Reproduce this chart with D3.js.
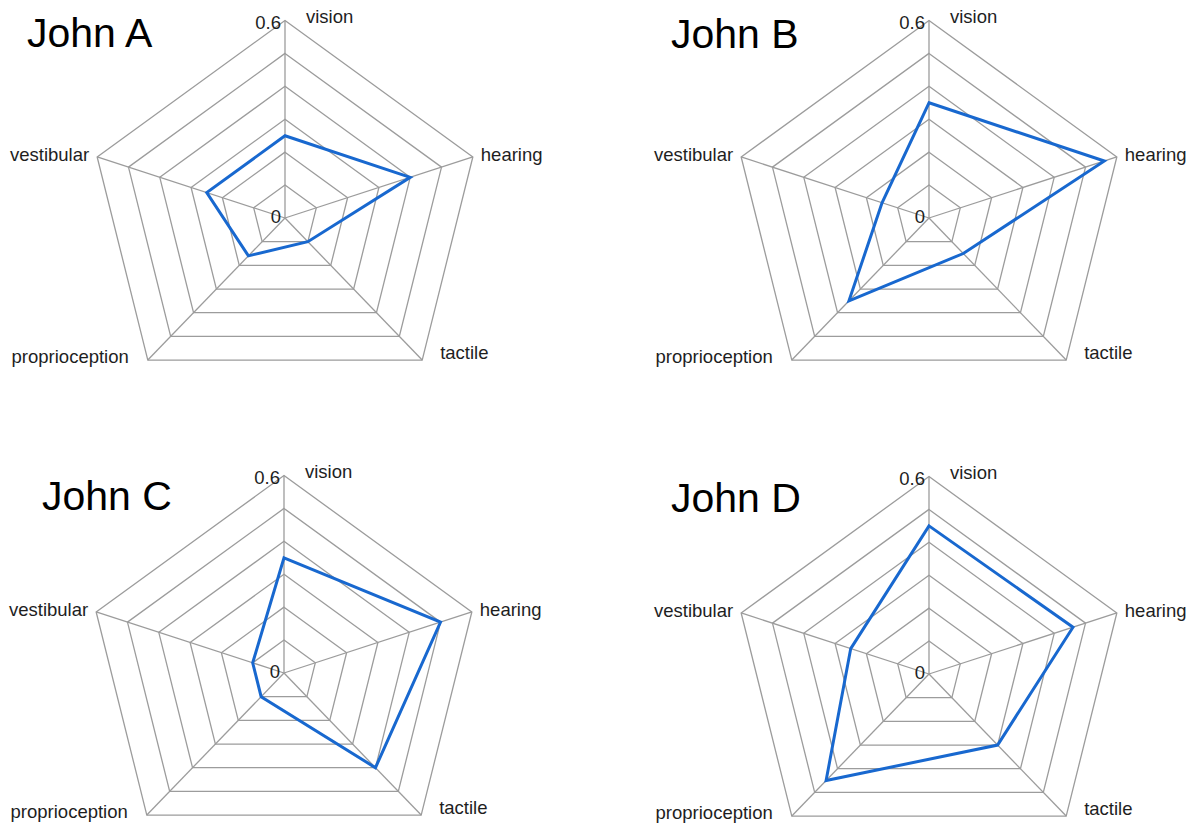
<!DOCTYPE html>
<html>
<head>
<meta charset="utf-8">
<script src="https://cdn.jsdelivr.net/npm/d3@7"></script>
<style>
  html, body { margin: 0; padding: 0; background: #fff; }
  svg { display: block; }
  text { font-family: "Liberation Sans", Arial, sans-serif; }
</style>
</head>
<body>
<svg id="chart" width="1196" height="826"></svg>
<script>
// ---- data ----
const axes = ["vision", "hearing", "tactile", "proprioception", "vestibular"];
const people = ["John A", "John B", "John C", "John D"];
const johnA = [0.25, 0.40, 0.10, 0.16, 0.25];
const johnB = [0.35, 0.56, 0.15, 0.35, 0.15];
const johnC = [0.35, 0.50, 0.40, 0.10, 0.10];
const johnD = [0.45, 0.46, 0.30, 0.45, 0.25];
const series = [johnA, johnB, johnC, johnD];
const ringValues = [0.1, 0.2, 0.3, 0.4, 0.5, 0.6];
const tickLabels = ["0", "0.6"];

// ---- layout ----
const R = 197.5;
const panels = [
  { cx: 285, cy: 218, tx: 27,  ty: 47 },
  { cx: 929, cy: 218, tx: 671, ty: 48 },
  { cx: 284, cy: 673, tx: 42,  ty: 510 },
  { cx: 929, cy: 674, tx: 671, ty: 512 }
];
// angular position of each axis (degrees clockwise from top), as drawn in the reference
const angleDeg = d3.scaleOrdinal().domain(axes).range([0, 72, 136, 224, 288]);
// label offsets relative to the outer vertex
const labelStyle = {
  vision:         { dx: 21,  dy: 2,  anchor: "start" },
  hearing:        { dx: 8,   dy: 4,  anchor: "start" },
  tactile:        { dx: 18,  dy: -1, anchor: "start" },
  proprioception: { dx: -19, dy: 3,  anchor: "end" },
  vestibular:     { dx: -8,  dy: 4,  anchor: "end" }
};

const r = d3.scaleLinear().domain([0, 0.6]).range([0, R]);
const rad = a => angleDeg(a) * Math.PI / 180;
const pt = (a, v) => [Math.sin(rad(a)) * r(v), -Math.cos(rad(a)) * r(v)];

const svg = d3.select("#chart");
const line = d3.line().curve(d3.curveLinearClosed);

panels.forEach((p, i) => {
  const g = svg.append("g").attr("transform", `translate(${p.cx},${p.cy})`);

  // rings
  g.selectAll("path.ring").data(ringValues).join("path")
    .attr("class", "ring")
    .attr("d", v => line(axes.map(a => pt(a, v))))
    .attr("fill", "none")
    .attr("stroke", "#9c9c9c")
    .attr("stroke-width", 1.3);

  // spokes
  g.selectAll("line.spoke").data(axes).join("line")
    .attr("class", "spoke")
    .attr("x1", 0).attr("y1", 0)
    .attr("x2", a => pt(a, 0.6)[0])
    .attr("y2", a => pt(a, 0.6)[1])
    .attr("stroke", "#9c9c9c")
    .attr("stroke-width", 1.3);

  // data polygon
  g.append("path")
    .attr("d", line(axes.map((a, k) => pt(a, series[i][k]))))
    .attr("fill", "none")
    .attr("stroke", "#1868cf")
    .attr("stroke-width", 3)
    .attr("stroke-linejoin", "miter");

  // radial tick labels (0 and 0.6)
  g.append("text")
    .attr("x", -4).attr("y", r(0) + 5)
    .attr("text-anchor", "end")
    .attr("font-size", 18.5).attr("fill", "#1e1e1e")
    .text(tickLabels[0]);
  g.append("text")
    .attr("x", -4).attr("y", -r(0.6) + 8)
    .attr("text-anchor", "end")
    .attr("font-size", 18.5).attr("fill", "#1e1e1e")
    .text(tickLabels[1]);

  // axis labels
  g.selectAll("text.axis").data(axes).join("text")
    .attr("class", "axis")
    .attr("x", a => pt(a, 0.6)[0] + labelStyle[a].dx)
    .attr("y", a => pt(a, 0.6)[1] + labelStyle[a].dy)
    .attr("text-anchor", a => labelStyle[a].anchor)
    .attr("font-size", 18.5)
    .attr("fill", "#1e1e1e")
    .text(a => a);

  // title
  svg.append("text")
    .attr("x", p.tx).attr("y", p.ty)
    .attr("font-size", 41)
    .attr("fill", "#000")
    .text(people[i]);
});
</script>
</body>
</html>
